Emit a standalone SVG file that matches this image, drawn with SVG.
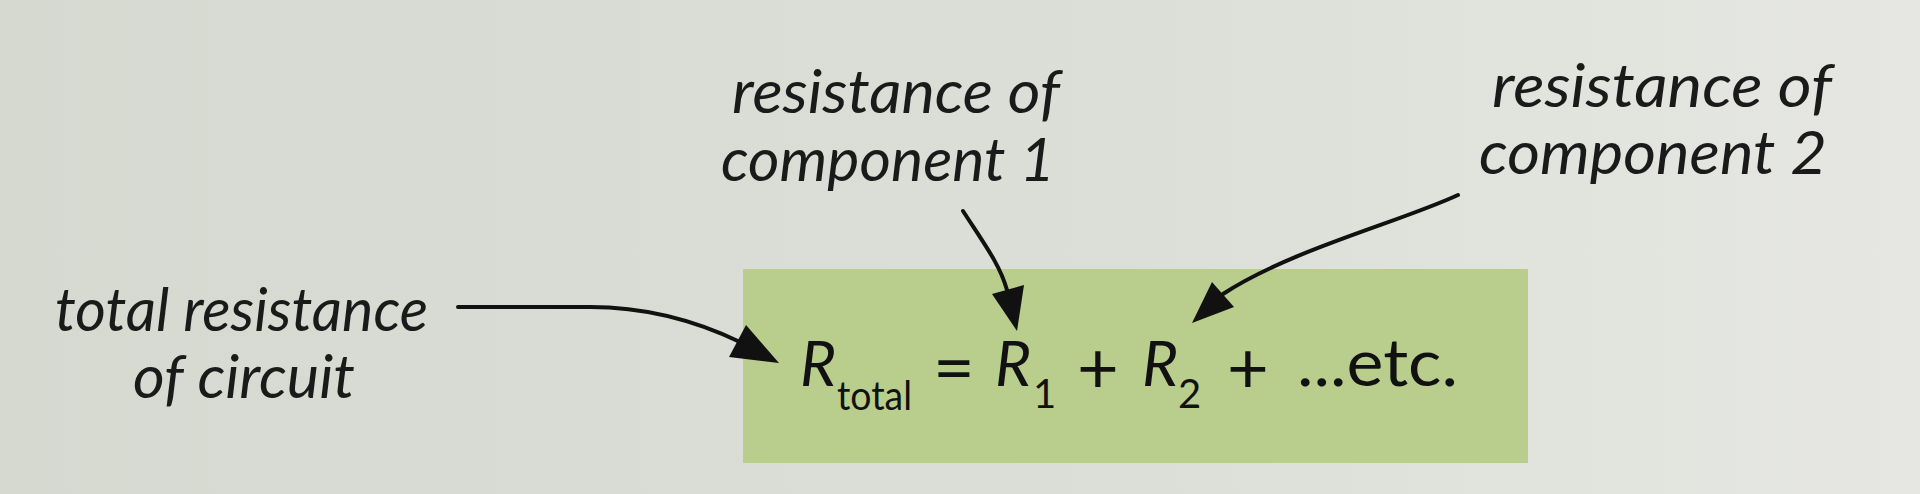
<svg xmlns="http://www.w3.org/2000/svg" width="1920" height="494" viewBox="0 0 1920 494">
  <defs>
    <linearGradient id="bg" x1="0" y1="0" x2="1" y2="0">
      <stop offset="0" stop-color="#d6d9d0"/>
      <stop offset="0.6" stop-color="#dcdfd7"/>
      <stop offset="1" stop-color="#e6e7e3"/>
    </linearGradient>
  </defs>
  <style>
    .lbl { font-family: "Lato", "Open Sans", "Liberation Sans", sans-serif; font-style: italic; font-size: 61px; fill: #1a1a1a; }
    .eq { font-family: "Lato", "Open Sans", "Liberation Sans", sans-serif; font-size: 62px; fill: #111; }
    .it { font-style: italic; }
    .sub { font-size: 40px; }
    .op { font-size: 72px; }
    .etc { font-size: 66px; }
    .shaft { fill: none; stroke: #111; stroke-width: 4; stroke-linecap: round; }
    .head { fill: #111; }
  </style>
  <rect x="0" y="0" width="1920" height="494" fill="url(#bg)"/>

  <g id="formula-box">
    <rect x="743" y="269" width="785" height="194" fill="#b9cd8c"/>
    <text class="eq">
      <tspan class="it" x="800" y="386">R</tspan>
      <tspan class="sub" x="837" y="410" textLength="75" lengthAdjust="spacingAndGlyphs">total</tspan>
      <tspan class="op" x="933" y="393">=</tspan>
      <tspan class="it" x="995" y="386">R</tspan>
      <tspan class="sub" x="1033" y="408">1</tspan>
      <tspan class="op" x="1077" y="393">+</tspan>
      <tspan class="it" x="1142" y="386">R</tspan>
      <tspan class="sub" x="1178" y="408">2</tspan>
      <tspan class="op" x="1227" y="393">+</tspan>
      <tspan class="etc" x="1297" y="386" textLength="161" lengthAdjust="spacingAndGlyphs">...etc.</tspan>
    </text>
  </g>

  <g id="label-total">
    <text class="lbl" x="55" y="331" textLength="373" lengthAdjust="spacingAndGlyphs">total resistance</text>
    <text class="lbl" x="133" y="398" textLength="222" lengthAdjust="spacingAndGlyphs">of circuit</text>
  </g>

  <g id="label-r1">
    <text class="lbl" x="732" y="113" textLength="328" lengthAdjust="spacingAndGlyphs">resistance of</text>
    <text class="lbl" x="721" y="181" textLength="334" lengthAdjust="spacingAndGlyphs">component 1</text>
  </g>

  <g id="label-r2">
    <text class="lbl" x="1492" y="107" textLength="340" lengthAdjust="spacingAndGlyphs">resistance of</text>
    <text class="lbl" x="1479" y="174" textLength="348" lengthAdjust="spacingAndGlyphs">component 2</text>
  </g>

  <g id="connectors">
    <path class="shaft" d="M458,307 L590,307 C640,307 688,317 740,342"/>
    <polygon class="head" points="729,357 746,325 779,363"/>
    <path class="shaft" d="M963,211 C985,245 1000,265 1007,290"/>
    <polygon class="head" points="992,294 1024,285 1017,331"/>
    <path class="shaft" d="M1458,195 C1400,222 1290,250 1223,294"/>
    <polygon class="head" points="1212,282 1234,307 1192,323"/>
  </g>
</svg>
